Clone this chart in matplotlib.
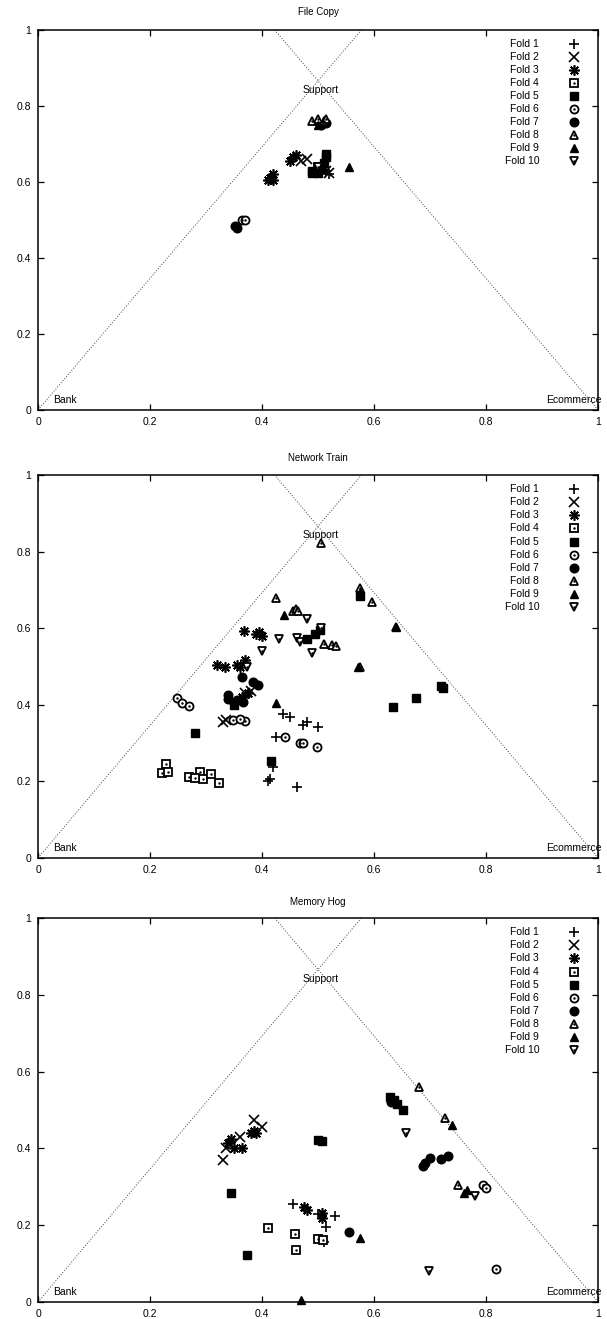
import numpy as np
import matplotlib
matplotlib.use("Agg")
import matplotlib.pyplot as plt

plt.rcParams['font.family'] = ['Liberation Sans', 'DejaVu Sans']

titles = ["File Copy", "Network Train", "Memory Hog"]
fold_labels = ["Fold 1", "Fold 2", "Fold 3", "Fold 4", "Fold 5",
               "Fold 6", "Fold 7", "Fold 8", "Fold 9", "Fold 10"]
tick_values = [0, 0.2, 0.4, 0.6, 0.8, 1]
tick_labels = ["0", "0.2", "0.4", "0.6", "0.8", "1"]
corner_names = ["Bank", "Ecommerce", "Support"]
corner_x = [0.0, 1.0, 0.5]
corner_y = [0.0, 0.0, 0.866]

# ---- File Copy ----
fc_fold = [1, 1,
           2, 2, 2, 2,
           3, 3, 3, 3, 3, 3, 3,
           4,
           5, 5, 5, 5, 5, 5, 5,
           6, 6,
           7, 7, 7, 7,
           8, 8, 8, 8,
           9, 9,
           10]
fc_x = [0.52, 0.515,
        0.47, 0.48, 0.515, 0.52,
        0.41, 0.415, 0.42, 0.42, 0.45, 0.455, 0.46,
        0.50,
        0.49, 0.50, 0.505, 0.51, 0.515, 0.515, 0.49,
        0.365, 0.37,
        0.355, 0.352, 0.505, 0.515,
        0.49, 0.50, 0.51, 0.515,
        0.555, 0.50,
        0.50]
fc_y = [0.62, 0.63,
        0.655, 0.66, 0.63, 0.625,
        0.605, 0.61, 0.62, 0.605, 0.655, 0.665, 0.67,
        0.64,
        0.625, 0.625, 0.635, 0.65, 0.665, 0.675, 0.63,
        0.50, 0.50,
        0.48, 0.485, 0.75, 0.755,
        0.76, 0.765, 0.76, 0.765,
        0.64, 0.75,
        0.64]

# ---- Network Train ----
nt_fold = [1]*10 + [2]*4 + [3]*11 + [4]*9 + [5]*11 + [6]*10 + [7]*7 + [8]*12 + [9]*5 + [10]*8
nt_x = [0.438, 0.45, 0.473, 0.48, 0.50, 0.425, 0.42, 0.41, 0.415, 0.462,
        0.33, 0.335, 0.38, 0.37,
        0.368, 0.39, 0.40, 0.395, 0.32, 0.334, 0.355, 0.37, 0.36, 0.375, 0.365,
        0.228, 0.222, 0.232, 0.27, 0.29, 0.295, 0.309, 0.323, 0.28,
        0.575, 0.504, 0.495, 0.48, 0.723, 0.72, 0.675, 0.634, 0.28, 0.416, 0.35,
        0.248, 0.257, 0.27, 0.348, 0.37, 0.36, 0.441, 0.468, 0.473, 0.498,
        0.364, 0.384, 0.393, 0.34, 0.355, 0.366, 0.34,
        0.505, 0.575, 0.597, 0.425, 0.455, 0.46, 0.465, 0.51, 0.525, 0.533, 0.575, 0.64,
        0.64, 0.572, 0.425, 0.44, 0.575,
        0.48, 0.462, 0.468, 0.43, 0.40, 0.373, 0.49, 0.505]
nt_y = [0.376, 0.368, 0.347, 0.355, 0.342, 0.316, 0.238, 0.20, 0.205, 0.185,
        0.355, 0.36, 0.435, 0.43,
        0.593, 0.585, 0.58, 0.59, 0.504, 0.50, 0.505, 0.517, 0.50, 0.43, 0.42,
        0.245, 0.222, 0.224, 0.212, 0.225, 0.205, 0.219, 0.196, 0.21,
        0.685, 0.595, 0.585, 0.572, 0.444, 0.45, 0.418, 0.394, 0.326, 0.253, 0.40,
        0.418, 0.405, 0.397, 0.36, 0.358, 0.362, 0.316, 0.30, 0.30, 0.29,
        0.473, 0.46, 0.452, 0.425, 0.412, 0.407, 0.415,
        0.822, 0.705, 0.668, 0.68, 0.645, 0.65, 0.645, 0.56, 0.556, 0.553, 0.50, 0.603,
        0.603, 0.499, 0.405, 0.635, 0.695,
        0.624, 0.574, 0.564, 0.572, 0.54, 0.50, 0.535, 0.60]

# ---- Memory Hog ----
mh_fold = [1]*5 + [2]*5 + [3]*11 + [4]*5 + [5]*8 + [6]*3 + [7]*7 + [8]*3 + [9]*5 + [10]*3
mh_x = [0.456, 0.53, 0.515, 0.50, 0.51,
        0.33, 0.385, 0.40, 0.335, 0.36,
        0.34, 0.345, 0.35, 0.365, 0.38, 0.39, 0.385, 0.475, 0.48, 0.508, 0.507,
        0.41, 0.459, 0.46, 0.50, 0.509,
        0.345, 0.373, 0.50, 0.507, 0.629, 0.635, 0.641, 0.652,
        0.795, 0.80, 0.818,
        0.688, 0.691, 0.70, 0.72, 0.732, 0.556, 0.63,
        0.68, 0.727, 0.75,
        0.739, 0.766, 0.575, 0.47, 0.76,
        0.657, 0.78, 0.698]
mh_y = [0.256, 0.225, 0.196, 0.23, 0.155,
        0.37, 0.475, 0.455, 0.40, 0.43,
        0.415, 0.425, 0.40, 0.40, 0.44, 0.44, 0.445, 0.248, 0.24, 0.232, 0.219,
        0.193, 0.177, 0.136, 0.164, 0.162,
        0.285, 0.122, 0.423, 0.418, 0.533, 0.525, 0.515, 0.50,
        0.305, 0.297, 0.086,
        0.355, 0.363, 0.376, 0.372, 0.379, 0.183, 0.52,
        0.561, 0.48, 0.305,
        0.462, 0.292, 0.167, 0.005, 0.285,
        0.441, 0.275, 0.081]

panel_folds = [fc_fold, nt_fold, mh_fold]
panel_x = [fc_x, nt_x, mh_x]
panel_y = [fc_y, nt_y, mh_y]

# marker styles per fold: (marker, filled, size, centre dot)
asterisk = (8, 2, 0)
styles = [
    ('+', True, 7.5, False),
    ('x', True, 6.5, False),
    (asterisk, True, 7.5, False),
    ('s', False, 5.6, True),
    ('s', True, 5.6, False),
    ('o', False, 5.8, True),
    ('o', True, 6.2, False),
    ('^', False, 6.2, True),
    ('^', True, 6.2, False),
    ('v', False, 6.2, True),
]


def draw_marker(ax, xs, ys, st, **kw):
    m, filled, ms, dot = st
    if m in ('+', 'x') or isinstance(m, tuple):
        ax.plot(xs, ys, linestyle='none', marker=m, markersize=ms, color='black',
                markeredgewidth=1.2, **kw)
    elif filled:
        ax.plot(xs, ys, linestyle='none', marker=m, markersize=ms, markerfacecolor='black',
                markeredgecolor='black', markeredgewidth=1.0, **kw)
    else:
        ax.plot(xs, ys, linestyle='none', marker=m, markersize=ms, markerfacecolor='white',
                markeredgecolor='black', markeredgewidth=1.3, **kw)
        if dot:
            ax.plot(xs, ys, linestyle='none', marker='.', markersize=1.5, color='black', **kw)


fig = plt.figure(figsize=(6.07, 13.19), dpi=100)
W, H = 607.0, 1319.0
axes_px = [(30, 410), (475, 858), (918, 1302)]
title_px = [12, 458, 902]
left_px, right_px = 38, 598

for p in range(3):
    top, bot = axes_px[p]
    ax = fig.add_axes([left_px / W, 1 - bot / H, (right_px - left_px) / W, (bot - top) / H])
    ax.set_xlim(0, 1)
    ax.set_ylim(0, 1)

    # triangle boundary lines (extended to the top of the plot)
    bx, by = corner_x[0], corner_y[0]
    ex, ey = corner_x[1], corner_y[1]
    sx, sy = corner_x[2], corner_y[2]
    t = 1.0 / sy
    ax.plot([bx, bx + (sx - bx) * t], [by, by + (sy - by) * t], linestyle=(0, (1, 1.8)),
            color='#444444', linewidth=0.7, zorder=1)
    ax.plot([ex, ex + (sx - ex) * t], [ey, ey + (sy - ey) * t], linestyle=(0, (1, 1.8)),
            color='#444444', linewidth=0.7, zorder=1)

    ax.text(bx + 0.027, by + 0.012, corner_names[0], fontsize=7.5, ha='left', va='bottom')
    ax.text(ex - 0.093, ey + 0.012, corner_names[1], fontsize=7.5, ha='left', va='bottom',
            clip_on=False)
    ax.text(sx - 0.027, sy - 0.037, corner_names[2], fontsize=7.5, ha='left', va='bottom')

    folds = np.array(panel_folds[p])
    xs = np.array(panel_x[p])
    ys = np.array(panel_y[p])
    for f in range(1, 11):
        sel = folds == f
        if sel.any():
            draw_marker(ax, xs[sel], ys[sel], styles[f - 1], zorder=3, clip_on=False)

    # key (legend) in gnuplot style: right-aligned text, symbol at right
    for i, lab in enumerate(fold_labels):
        yk = 0.963 - i * 0.0342
        ax.text(0.895, yk, lab, transform=ax.transAxes, fontsize=7.5, ha='right', va='center')
        draw_marker(ax, [0.958], [yk], styles[i], transform=ax.transAxes, zorder=4)

    ax.set_xticks(tick_values)
    ax.set_xticklabels(tick_labels)
    ax.set_yticks(tick_values)
    ax.set_yticklabels(tick_labels)
    ax.tick_params(direction='in', length=4, width=0.9, labelsize=7.5, top=True, right=True,
                   pad=5)
    for sp in ax.spines.values():
        sp.set_linewidth(1.1)
    fig.text(0.524, 1 - title_px[p] / H, titles[p], fontsize=7, ha='center', va='center')

fig.savefig("out.png", dpi=100)
